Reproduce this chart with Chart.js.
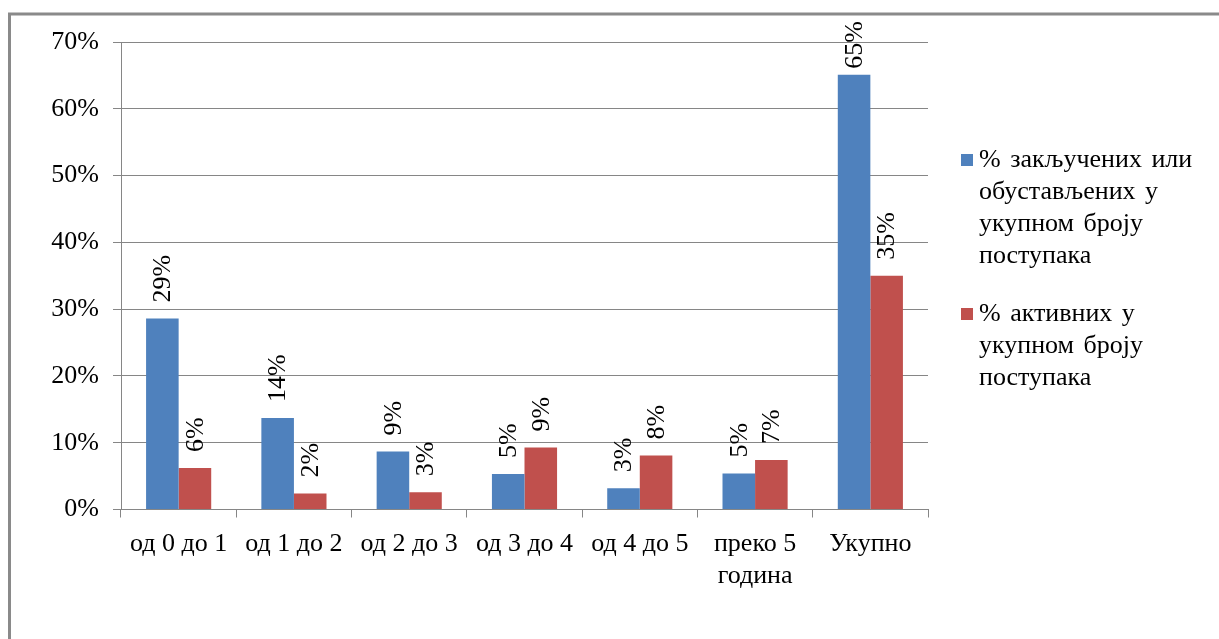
<!DOCTYPE html>
<html>
<head>
<meta charset="utf-8">
<script src="https://cdn.jsdelivr.net/npm/chart.js@4/dist/chart.umd.min.js"></script>
<style>
  html, body { margin: 0; padding: 0; background: #fff; }
  #wrap { width: 1219px; height: 639px; position: relative; }
</style>
</head>
<body>
<div id="wrap"><canvas id="c" width="1219" height="639"></canvas></div>
<script>
const categories = [
  'од 0 до 1', 'од 1 до 2', 'од 2 до 3', 'од 3 до 4', 'од 4 до 5',
  ['преко 5', 'година'], 'Укупно'
];
const closedPct = [28.6, 13.7, 8.7, 5.3, 3.2, 5.4, 65.1];
const activePct = [6.2, 2.4, 2.6, 9.3, 8.1, 7.4, 35.0];
const seriesNames = [
  ['% закључених или', 'обустављених у', 'укупном броју', 'поступака'],
  ['% активних у', 'укупном броју', 'поступака']
];
const yTickValues = [0, 10, 20, 30, 40, 50, 60, 70];

const FONT = '"Liberation Serif", "Times New Roman", serif';
const GRID = '#868686';
const BLUE = '#4F81BD';
const RED = '#C0504D';

const framePlugin = {
  id: 'frame',
  beforeDraw(chart) {
    const ctx = chart.ctx;
    ctx.save();
    ctx.fillStyle = '#fff';
    ctx.fillRect(0, 0, chart.width, chart.height);
    ctx.strokeStyle = '#8a8a8a';
    ctx.lineWidth = 3;
    ctx.beginPath();
    ctx.moveTo(9.5, chart.height + 5);
    ctx.lineTo(9.5, 14);
    ctx.lineTo(chart.width + 5, 14);
    ctx.stroke();
    ctx.restore();
  }
};

const labelPlugin = {
  id: 'barLabels',
  afterDatasetsDraw(chart) {
    const ctx = chart.ctx;
    const top = chart.chartArea.top;
    ctx.save();
    ctx.font = '26px ' + FONT;
    ctx.fillStyle = '#000';
    ctx.textAlign = 'left';
    ctx.textBaseline = 'middle';
    chart.data.datasets.forEach((ds, di) => {
      const meta = chart.getDatasetMeta(di);
      meta.data.forEach((bar, i) => {
        const txt = Math.round(ds.data[i]) + '%';
        const w = ctx.measureText(txt).width;
        let start = bar.y - 16;
        const minStart = top - 21 + w;
        if (start < minStart) start = Math.min(minStart, bar.y - 3);
        ctx.save();
        ctx.translate(bar.x, start);
        ctx.rotate(-Math.PI / 2);
        ctx.fillText(txt, 0, 1);
        ctx.restore();
      });
    });
    ctx.restore();
  }
};

const legendPlugin = {
  id: 'sideLegend',
  afterDraw(chart) {
    const ctx = chart.ctx;
    ctx.save();
    ctx.font = '26px ' + FONT;
    ctx.fillStyle = '#000';
    ctx.textBaseline = 'middle';
    ctx.textAlign = 'left';
    if ('wordSpacing' in ctx) ctx.wordSpacing = '3px';
    const lineH = 32;
    const colors = [BLUE, RED];
    let y = 160;
    seriesNames.forEach((lines, si) => {
      ctx.fillStyle = colors[si];
      ctx.fillRect(961, y - 6, 12, 12);
      ctx.fillStyle = '#000';
      lines.forEach((ln, li) => {
        ctx.fillText(ln, 979, y + li * lineH);
      });
      y += lines.length * lineH + 26;
    });
    ctx.restore();
  }
};

new Chart(document.getElementById('c'), {
  type: 'bar',
  data: {
    labels: categories,
    datasets: [
      { label: seriesNames[0].join(' '), data: closedPct, backgroundColor: BLUE, borderWidth: 0 },
      { label: seriesNames[1].join(' '), data: activePct, backgroundColor: RED, borderWidth: 0 }
    ]
  },
  options: {
    responsive: false,
    animation: false,
    devicePixelRatio: 1,
    layout: { padding: { left: 0, top: 42, right: 291, bottom: 0 } },
    datasets: { bar: { categoryPercentage: 0.565, barPercentage: 1.0 } },
    plugins: {
      legend: { display: false },
      tooltip: { enabled: false },
      title: { display: false }
    },
    scales: {
      x: {
        offset: true,
        grid: {
          offset: true,
          drawOnChartArea: false,
          drawTicks: true,
          tickLength: 8,
          color: GRID,
          lineWidth: 1
        },
        border: { display: true, color: GRID, width: 1 },
        ticks: {
          color: '#000',
          font: { family: FONT, size: 26, lineHeight: 1.23 },
          padding: 11,
          maxRotation: 0,
          minRotation: 0,
          autoSkip: false
        },
        afterFit(scale) { scale.height = 129.5; }
      },
      y: {
        min: 0,
        max: 70,
        afterBuildTicks(scale) { scale.ticks = yTickValues.map(v => ({ value: v })); },
        grid: {
          color: GRID,
          lineWidth: 1,
          tickLength: 8,
          drawTicks: true
        },
        border: { display: true, color: GRID, width: 1 },
        ticks: {
          color: '#000',
          font: { family: FONT, size: 26 },
          padding: 14,
          callback: v => v + '%'
        },
        afterFit(scale) { scale.width = 121; }
      }
    }
  },
  plugins: [framePlugin, labelPlugin, legendPlugin]
});
</script>
</body>
</html>
